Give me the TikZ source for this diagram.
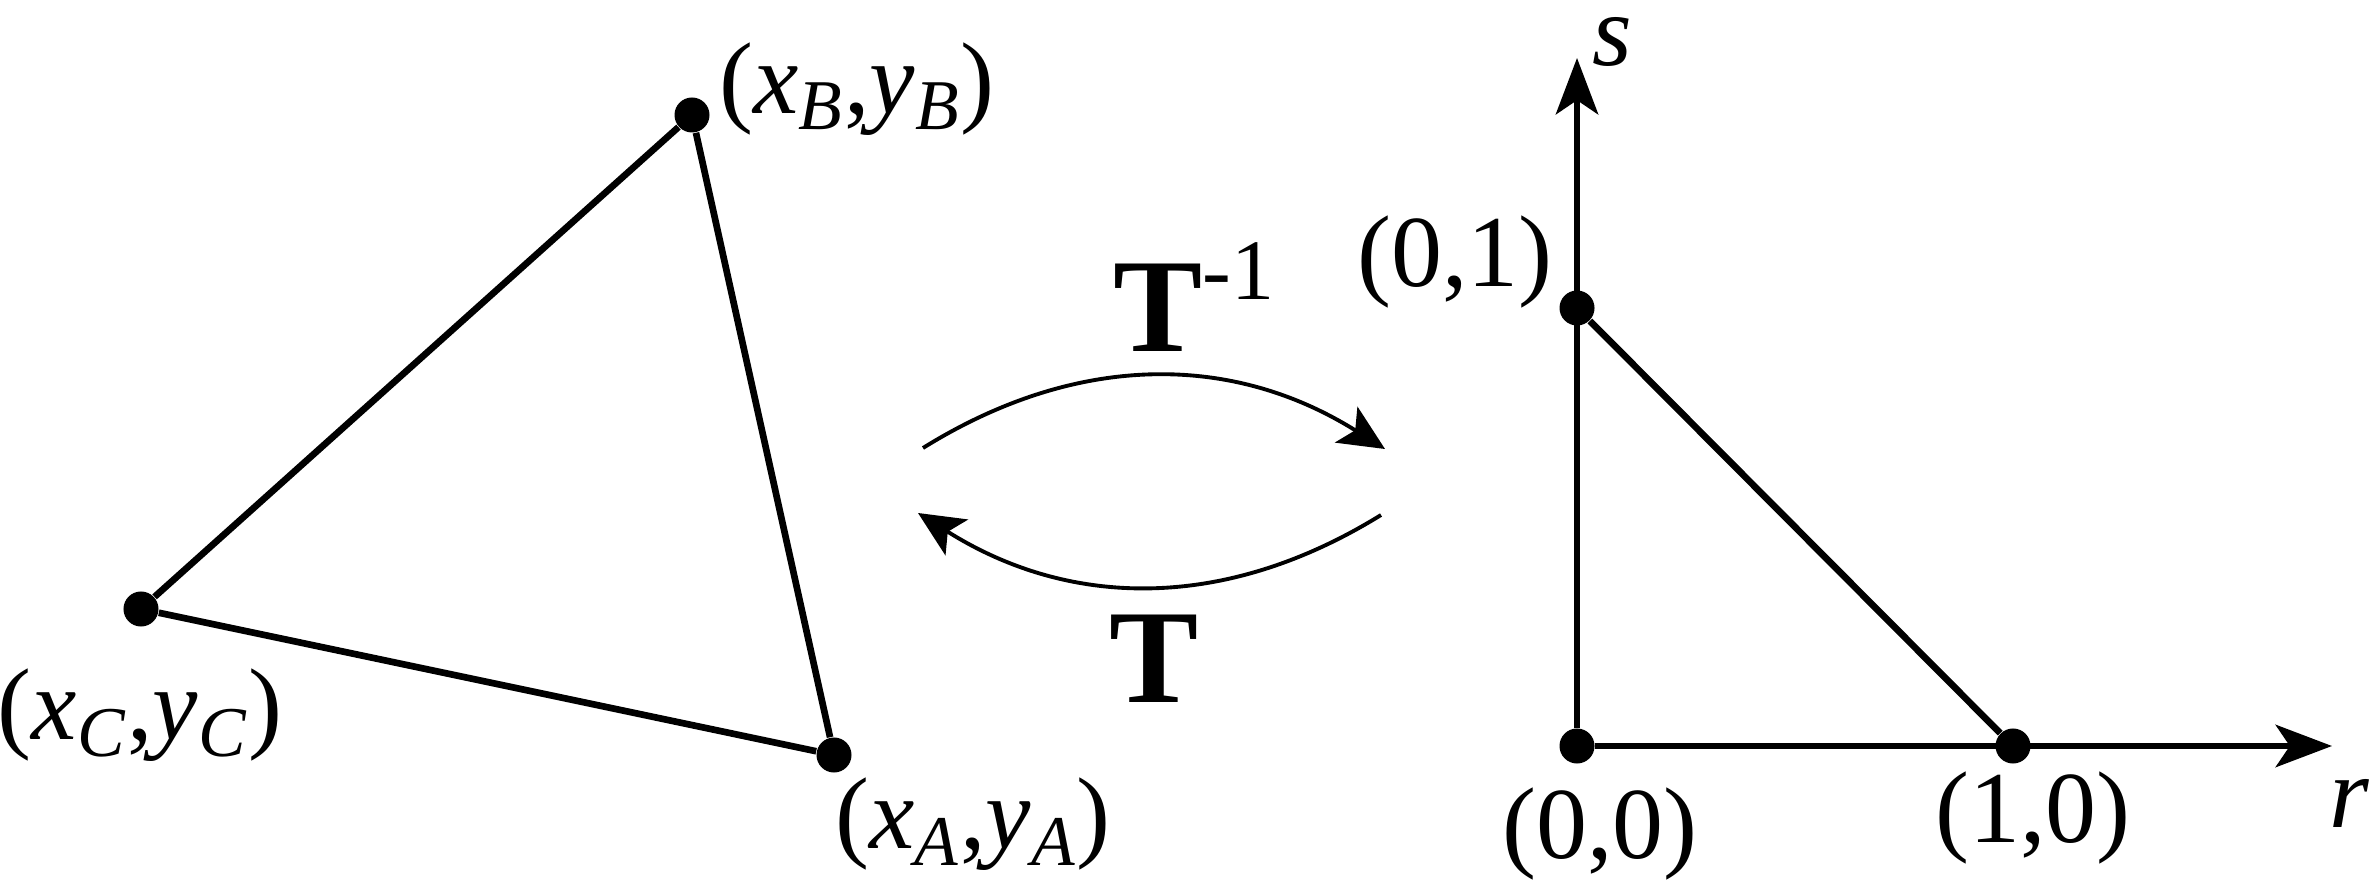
\documentclass[tikz,border=0pt]{standalone}
\usepackage{fontspec}
\setmainfont{Liberation Serif}
\usetikzlibrary{arrows.meta}

\newcommand{\vtx}[1]{(\textit{x}\textsubscript{\textit{#1}},\textit{y}\textsubscript{\textit{#1}})}

\begin{document}
\begin{tikzpicture}[
    x=0.01cm, y=-0.01cm,
    dot/.style={circle, fill=black, inner sep=0pt, minimum size=0.35cm},
    edge/.style={line width=1.9pt},
    axis/.style={line width=1.9pt, -{Stealth[length=16pt, width=12pt, inset=4pt]}},
    mapping/.style={line width=1.1pt, -{Stealth[length=13pt, width=12pt, inset=3pt]}},
    coord/.style={font=\fontsize{29}{34}\selectfont, inner sep=0pt},
    bigT/.style={font=\fontsize{38}{44}\selectfont\bfseries, inner sep=0pt}
]
    \useasboundingbox (0,0) rectangle (2370,880);

    % Physical triangle
    \node[dot] (A) at (834,755) {};
    \node[dot] (B) at (692,115) {};
    \node[dot] (C) at (141,609) {};
    \draw[edge] (C) -- (B) -- (A) -- (C);

    \node[coord] (labB) at (857,89) {\vtx{B}};
    \node[coord] (labC) at (140,715) {\vtx{C}};
    \node[coord] (labA) at (973,824) {\vtx{A}};

    % Reference triangle
    \node[dot] (O) at (1577,746) {};
    \node[dot] (P) at (1577,308) {};
    \node[dot] (Q) at (2013,746) {};
    \coordinate (stip) at (1577,58);
    \coordinate (rtip) at (2332,746);
    \draw[axis] (O) -- (stip);
    \draw[axis] (O) -- (rtip);
    \draw[edge] (P) -- (Q);

    \node[coord] (labP) at (1455,262) {(0,1)};
    \node[coord] (labO) at (1600,834) {(0,0)};
    \node[coord] (labQ) at (2033,818) {(1,0)};
    \node[coord] (labs) at (1612,42) {\textit{s}};
    \node[coord] (labr) at (2349,803) {\textit{r}};

    % Mappings
    \coordinate (m1) at (923,448);
    \coordinate (m2) at (1385,449);
    \coordinate (m3) at (1381,515);
    \coordinate (m4) at (918,513);
    \draw[mapping] (m1) to[bend left=32] (m2);
    \draw[mapping] (m3) to[bend left=32] (m4);

    \node[bigT, anchor=base west] (Tinv) at (1113,352) {T\raisebox{15pt}{\fontsize{24.5}{28}\selectfont\mdseries -1}};
    \node[bigT, anchor=base] (Tfwd) at (1154,703) {T};
\end{tikzpicture}
\end{document}
